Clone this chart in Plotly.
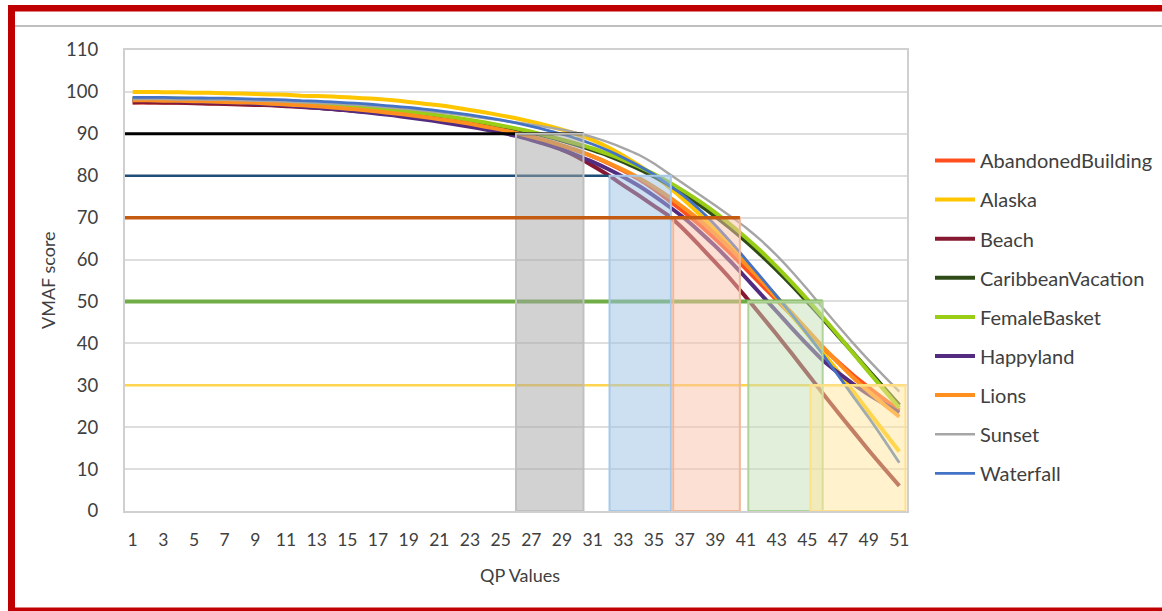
import plotly.graph_objects as go

# QP values on the x axis
qp = list(range(1, 52))
qp_tick_labels = ["1", "3", "5", "7", "9", "11", "13", "15", "17", "19", "21", "23", "25",
                  "27", "29", "31", "33", "35", "37", "39", "41", "43", "45", "47", "49", "51"]
qp_tick_values = [1, 3, 5, 7, 9, 11, 13, 15, 17, 19, 21, 23, 25,
                  27, 29, 31, 33, 35, 37, 39, 41, 43, 45, 47, 49, 51]
vmaf_ticks = [0, 10, 20, 30, 40, 50, 60, 70, 80, 90, 100, 110]

# VMAF score per QP (1..51) for each sequence
abandoned_building = [
    97.5, 97.5, 97.5, 97.4, 97.4, 97.3, 97.2, 97.1, 97.0, 96.9,
    96.7, 96.5, 96.3, 96.0, 95.7, 95.4, 95.1, 94.7, 94.3, 93.9,
    93.4, 92.9, 92.3, 91.7, 91.0, 90.2, 89.3, 88.3, 87.2, 86.0,
    84.6, 83.0, 81.2, 79.2, 76.8, 74.0, 71.2, 68.2, 64.9, 61.4,
    57.7, 54.0, 50.3, 46.6, 42.8, 39.0, 35.6, 32.4, 29.5, 26.7, 24.0]
alaska = [
    100.0, 100.0, 99.9, 99.9, 99.8, 99.8, 99.7, 99.6, 99.5, 99.4,
    99.3, 99.1, 99.0, 98.9, 98.7, 98.5, 98.3, 98.0, 97.6, 97.2,
    96.8, 96.3, 95.7, 95.1, 94.4, 93.7, 92.9, 92.0, 91.0, 89.9,
    88.5, 86.8, 84.8, 82.5, 80.0, 77.2, 74.1, 70.7, 67.0, 63.1,
    59.2, 55.1, 50.9, 46.6, 42.2, 37.8, 33.3, 28.5, 23.7, 18.9, 14.2]
beach = [
    97.5, 97.5, 97.4, 97.4, 97.3, 97.2, 97.1, 97.0, 96.9, 96.8,
    96.6, 96.4, 96.2, 95.9, 95.6, 95.3, 95.0, 94.6, 94.2, 93.7,
    93.2, 92.6, 92.0, 91.3, 90.6, 89.8, 88.8, 87.6, 86.2, 84.5,
    82.4, 80.2, 77.7, 75.3, 72.8, 70.3, 67.0, 63.2, 59.3, 55.3,
    51.0, 46.6, 42.1, 37.5, 32.8, 28.1, 23.5, 19.0, 14.5, 10.2, 6.0]
caribbean_vacation = [
    98.3, 98.3, 98.2, 98.2, 98.1, 98.0, 97.9, 97.8, 97.7, 97.6,
    97.4, 97.2, 97.0, 96.8, 96.5, 96.2, 95.9, 95.5, 95.1, 94.7,
    94.2, 93.7, 93.1, 92.5, 91.8, 91.1, 90.3, 89.4, 88.4, 87.3,
    86.1, 84.8, 83.3, 81.6, 79.8, 77.8, 75.5, 73.0, 70.3, 67.4,
    64.3, 61.0, 57.5, 53.8, 49.9, 45.9, 41.8, 37.7, 33.5, 29.4, 25.3]
female_basket = [
    98.5, 98.5, 98.4, 98.4, 98.3, 98.2, 98.1, 98.0, 97.9, 97.8,
    97.6, 97.4, 97.2, 97.0, 96.7, 96.4, 96.1, 95.7, 95.3, 94.9,
    94.4, 93.9, 93.3, 92.7, 92.0, 91.3, 90.5, 89.6, 88.6, 87.6,
    86.5, 85.2, 83.8, 82.2, 80.4, 78.4, 76.2, 73.8, 71.2, 68.3,
    65.2, 61.9, 58.3, 54.5, 50.5, 46.3, 42.0, 37.6, 33.2, 28.9, 24.6]
happyland = [
    98.0, 98.0, 97.9, 97.8, 97.7, 97.6, 97.5, 97.4, 97.2, 97.0,
    96.8, 96.5, 96.2, 95.9, 95.6, 95.2, 94.8, 94.4, 93.9, 93.4,
    92.9, 92.3, 91.7, 91.0, 90.3, 89.5, 88.5, 87.4, 86.2, 84.8,
    83.3, 81.6, 79.7, 77.6, 75.2, 72.6, 69.8, 66.6, 63.2, 59.5,
    55.6, 51.6, 47.6, 43.6, 39.7, 36.0, 33.0, 30.3, 27.8, 25.6, 23.5]
lions = [
    98.0, 98.0, 97.9, 97.9, 97.8, 97.7, 97.6, 97.5, 97.4, 97.2,
    97.0, 96.8, 96.6, 96.3, 96.0, 95.7, 95.3, 94.9, 94.5, 94.0,
    93.5, 93.0, 92.4, 91.7, 91.0, 90.2, 89.3, 88.3, 87.2, 86.0,
    84.6, 83.1, 81.4, 79.5, 77.3, 74.9, 72.2, 69.3, 66.0, 62.5,
    58.8, 55.0, 51.1, 47.2, 43.2, 39.2, 35.4, 31.8, 28.5, 25.4, 22.5]
sunset = [
    98.3, 98.3, 98.3, 98.2, 98.2, 98.1, 98.1, 98.0, 97.9, 97.8,
    97.7, 97.5, 97.4, 97.2, 97.0, 96.8, 96.5, 96.2, 95.9, 95.5,
    95.1, 94.7, 94.2, 93.7, 93.2, 92.7, 92.2, 91.6, 91.0, 90.2,
    89.2, 88.0, 86.6, 85.0, 82.9, 80.4, 77.9, 75.4, 72.9, 70.3,
    67.6, 64.5, 61.0, 57.1, 52.9, 48.5, 44.2, 40.0, 36.0, 32.2, 28.5]
waterfall = [
    98.7, 98.7, 98.7, 98.6, 98.6, 98.5, 98.5, 98.4, 98.3, 98.2,
    98.1, 97.9, 97.8, 97.6, 97.4, 97.2, 96.9, 96.6, 96.3, 95.9,
    95.5, 95.0, 94.5, 93.9, 93.3, 92.6, 91.8, 90.9, 89.9, 88.8,
    87.5, 86.0, 84.3, 82.4, 80.3, 77.7, 75.0, 71.8, 68.2, 64.2,
    60.0, 55.7, 51.3, 46.8, 42.2, 37.4, 32.4, 27.3, 22.3, 17.0, 11.5]

sequence_names = ["AbandonedBuilding", "Alaska", "Beach", "CaribbeanVacation",
                  "FemaleBasket", "Happyland", "Lions", "Sunset", "Waterfall"]
sequence_scores = [abandoned_building, alaska, beach, caribbean_vacation,
                   female_basket, happyland, lions, sunset, waterfall]
sequence_colors = ["#ff4f1f", "#ffc600", "#861931", "#2f4c18",
                   "#9acd16", "#532b80", "#ff9020", "#a6a6a6", "#4472c4"]
sequence_widths = [4, 4, 4, 4, 4, 4, 4, 2.4, 2.8]

# VMAF target levels and the QP span in which the sequences reach each level
target_levels = [90, 80, 70, 50, 30]
span_start_qp = [26.0, 32.1, 36.25, 41.15, 45.2]
span_end_qp = [30.4, 36.1, 40.6, 46.0, 51.4]
level_line_colors = ["#000000", "#1f4e79", "#c55a11", "#70ad47", "#ffd54f"]
level_line_widths = [3, 2.5, 3.5, 4, 2.5]
level_line_to_end = [True, False, True, True, True]
level_line_on_top = [False, False, True, False, False]
span_fill_colors = ["rgba(166,166,166,0.5)", "rgba(156,194,229,0.5)", "rgba(247,193,167,0.5)",
                    "rgba(197,223,181,0.5)", "rgba(255,229,153,0.5)"]
span_edge_colors = ["#c0c0c0", "#a7c8e8", "#f4b899", "#b0d49a", "#ffe08a"]

fig = go.Figure()
for name, scores, color, width in zip(sequence_names, sequence_scores, sequence_colors, sequence_widths):
    fig.add_trace(go.Scatter(
        x=qp, y=scores, name=name, mode="lines", legendgroup=name,
        line=dict(color=color, width=width, shape="spline", smoothing=0.6),
    ))

x_left = 0.5
shapes_below, shapes_span, shapes_top = [], [], []
for lvl, x0, x1, lc, lw, to_end, on_top, fc, ec in zip(
        target_levels, span_start_qp, span_end_qp, level_line_colors, level_line_widths,
        level_line_to_end, level_line_on_top, span_fill_colors, span_edge_colors):
    line_shape = dict(type="line", xref="x", yref="y", x0=x_left, x1=(x1 if to_end else x0),
                      y0=lvl, y1=lvl, line=dict(color=lc, width=lw))
    (shapes_top if on_top else shapes_below).append(line_shape)
    shapes_span.append(dict(type="rect", xref="x", yref="y", x0=x0, x1=x1, y0=0, y1=lvl,
                            fillcolor=fc, line=dict(color=ec, width=2)))

# Page frame: red border with a thin grey rule under the top edge
W, H = 1162, 611
L, R, T, B = 125, 907, 50, 511


def px(xp):
    return (xp - L) / (R - L)


def py(yp):
    return (B - yp) / (B - T)


frame = [
    dict(type="rect", xref="paper", yref="paper", x0=px(8), x1=px(15), y0=py(611), y1=py(5),
         fillcolor="#c00000", line=dict(width=0), layer="above"),
    dict(type="rect", xref="paper", yref="paper", x0=px(8), x1=px(1170), y0=py(11.5), y1=py(5),
         fillcolor="#c00000", line=dict(width=0), layer="above"),
    dict(type="rect", xref="paper", yref="paper", x0=px(8), x1=px(1170), y0=py(612), y1=py(607.5),
         fillcolor="#c00000", line=dict(width=0), layer="above"),
    dict(type="line", xref="paper", yref="paper", x0=px(15), x1=px(1170), y0=py(26), y1=py(26),
         line=dict(color="#808080", width=1.2), layer="above"),
]

fig.update_layout(
    width=W, height=H,
    margin=dict(l=L, r=W - R, t=T, b=H - B, autoexpand=False),
    paper_bgcolor="white", plot_bgcolor="white",
    font=dict(family="Lato, 'Open Sans', sans-serif", color="#404040"),
    shapes=shapes_below + shapes_span + shapes_top + frame,
    showlegend=True,
    legend=dict(x=px(930), y=py(141), xanchor="left", yanchor="top",
                font=dict(size=20, color="#404040"), tracegroupgap=10.1,
                itemwidth=40, bgcolor="rgba(0,0,0,0)"),
    annotations=[
        dict(text="VMAF score", xref="paper", yref="paper", x=px(48), y=py(280),
             xanchor="center", yanchor="middle",
             showarrow=False, textangle=-90, font=dict(size=18, color="#404040")),
        dict(text="QP Values", xref="paper", yref="paper", x=px(520), y=py(575),
             xanchor="center", yanchor="middle",
             showarrow=False, font=dict(size=18, color="#404040")),
    ],
)
fig.update_xaxes(range=[0.5, 51.5], tickmode="array", tickvals=qp_tick_values, ticktext=qp_tick_labels,
                 showgrid=False, zeroline=False, showline=True, linecolor="#d0d0d0", linewidth=2,
                 mirror=True, ticks="", ticklabelstandoff=12,
                 tickfont=dict(size=17.5, color="#404040"))
fig.update_yaxes(range=[0, 110], tickmode="array", tickvals=vmaf_ticks,
                 showgrid=True, gridcolor="#dedede", gridwidth=1.5, zeroline=False,
                 showline=True, linecolor="#d0d0d0", linewidth=2, mirror=True,
                 ticks="", ticklabelstandoff=21, tickfont=dict(size=18.5, color="#404040"))

fig.write_html("out.html")
